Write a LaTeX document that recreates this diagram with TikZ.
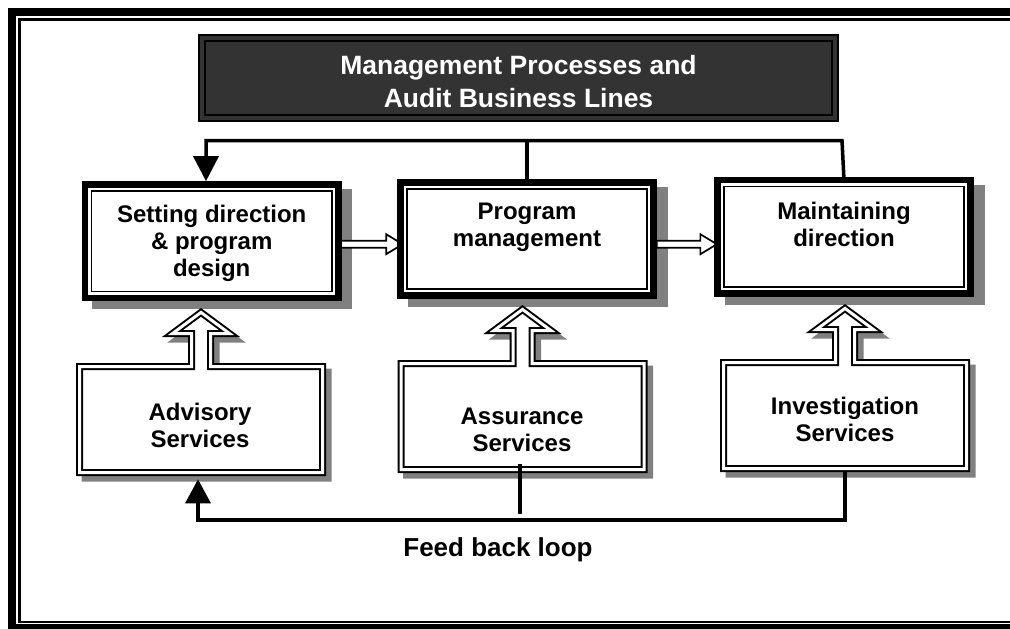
\documentclass[tikz,border=0pt]{standalone}
\usepackage{fontspec}
\setmainfont{Liberation Sans}
\usetikzlibrary{arrows.meta,calc}
\definecolor{titlegray}{HTML}{333333}
\definecolor{shadegray}{HTML}{808080}
\pgfdeclarelayer{shade}
\pgfdeclarelayer{flow}
\pgfsetlayers{shade,flow,main}

\tikzset{
  % gray drop shadow behind a stage box
  boxshade/.style={insert path={($(#1.north west)+(7.15,4.65)$) rectangle ($(#1.south east)+(13.85,11.35)$)}},
  % thin inner rule of a stage box
  boxinner/.style={insert path={($(#1.north west)+(6.5,6.5)$) rectangle ($(#1.south east)+(-6.5,-6.5)$)}},
  % service box merged with its upward block arrow; #2 shifts the outline (for the shadow)
  serviceshape/.style 2 args={insert path={
    ($(#1.south west)+(3.5+#2,-3.5+#2)$) -- ($(#1.north west)+(3.5+#2,3.5+#2)$)
    -- ($(#1.north)+(-9.5+#2,3.5+#2)$) -- ($(#1.north)+(-9.5+#2,-29.5+#2)$)
    -- ($(#1.north)+(-28.5+#2,-29.5+#2)$) -- ($(#1.north)+(#2,-50.6+#2)$)
    -- ($(#1.north)+(28.5+#2,-29.5+#2)$) -- ($(#1.north)+(9.5+#2,-29.5+#2)$)
    -- ($(#1.north)+(9.5+#2,3.5+#2)$) -- ($(#1.north east)+(-3.5+#2,3.5+#2)$)
    -- ($(#1.south east)+(-3.5+#2,-3.5+#2)$) -- cycle}},
  % hollow block arrow from #1 to #2
  hollowflow/.style 2 args={insert path={
    ($(#1)+(0,-3.5)$) -- ($(#2)+(-16.5,-3.5)$) -- ($(#2)+(-16.5,-10)$) -- (#2)
    -- ($(#2)+(-16.5,10)$) -- ($(#2)+(-16.5,3.5)$) -- ($(#1)+(0,3.5)$) -- cycle}}
}

\begin{document}
\begin{tikzpicture}[x=1pt,y=-1pt,
  every node/.style={inner sep=0pt, outer sep=0pt},
  stagebox/.style={draw=black, fill=white, line width=6.7pt,
    minimum width=253.3pt, minimum height=113.3pt},
  servicebox/.style={minimum width=250pt, minimum height=113pt},
  labeltext/.style={font=\bfseries\fontsize{24}{27}\selectfont, align=center, anchor=north},
  conn/.style={draw=black, line width=3.5pt, line join=miter},
  tipdown/.style={-{Triangle[width=25pt,length=25pt]}},
  doubleline/.style={draw=black, line width=2pt, double=white, double distance=3pt,
    line join=miter, fill=white},
  hollow/.style={draw=black, fill=white, line width=1.7pt, line join=miter}]

\useasboundingbox (0,0) rectangle (1010,629);

% page frame
\draw[line width=7.5pt] (12,12) rectangle (1020,627.75);
\draw[line width=2.4pt] (19.5,19.5) rectangle (1013,622);

% heading
\node[draw=black, line width=2pt, fill=titlegray, minimum width=639pt, minimum height=86pt]
  (titlebox) at (518.5,78) {};
\draw[line width=2pt] ($(titlebox.north west)+(6,6)$) rectangle ($(titlebox.south east)+(-6,-6)$);
\node[font=\bfseries\fontsize{26.5}{32.5}\selectfont, text=white, align=center, anchor=north]
  (titletext) at (518.5,55.5) {Management Processes and\\Audit Business Lines};

% stage boxes
\node[stagebox] (setdir) at (211.7,241.2) {};
\node[stagebox] (progmgmt) at (527,238.8) {};
\node[stagebox] (maintdir) at (844,236.7) {};
\draw[line width=1.7pt, boxinner=setdir];
\draw[line width=1.7pt, boxinner=progmgmt];
\draw[line width=1.7pt, boxinner=maintdir];
\node[labeltext] (setdirtext) at (211.7,205) {Setting direction\\\& program\\design};
\node[labeltext] (progmgmttext) at (527,203.3) {Program\\management};
\node[labeltext] (maintdirtext) at (844,201.7) {Maintaining\\direction};

% service boxes
\node[servicebox] (advisory) at (201,419.5) {};
\node[servicebox] (assurance) at (522.5,416.5) {};
\node[servicebox] (investigation) at (845,415.5) {};

\begin{pgfonlayer}{shade}
  \fill[shadegray, boxshade=setdir];
  \fill[shadegray, boxshade=progmgmt];
  \fill[shadegray, boxshade=maintdir];
  \path[fill=shadegray, draw=shadegray, line width=7pt, line join=miter, serviceshape={advisory}{5.5}];
  \path[fill=shadegray, draw=shadegray, line width=7pt, line join=miter, serviceshape={assurance}{5.5}];
  \path[fill=shadegray, draw=shadegray, line width=7pt, line join=miter, serviceshape={investigation}{5.5}];
\end{pgfonlayer}

\path[doubleline, serviceshape={advisory}{0}];
\path[doubleline, serviceshape={assurance}{0}];
\path[doubleline, serviceshape={investigation}{0}];
\node[labeltext] (advisorytext) at (200,403) {Advisory\\Services};
\node[labeltext] (assurancetext) at (522,407.7) {Assurance\\Services};
\node[labeltext] (investigationtext) at (845,397.3) {Investigation\\Services};

% flow between the stages
\coordinate (flow1s) at ($(setdir.east)+(2.6,3)$);
\coordinate (flow1e) at ($(flow1s -| progmgmt.west)+(2.3,0)$);
\coordinate (flow2s) at ($(progmgmt.east)+(3,5.4)$);
\coordinate (flow2e) at ($(flow2s -| maintdir.west)+(-0.5,0)$);
\begin{pgfonlayer}{flow}
  \path[hollow, hollowflow={flow1s}{flow1e}];
  \path[hollow, hollowflow={flow2s}{flow2e}];
\end{pgfonlayer}

% direction rail along the top
\coordinate (railright) at (842,140.5);
\coordinate (railleft) at (206,140.5);
\draw[conn, tipdown] (maintdir.north) -- (railright) -- (railleft)
  -- ($(railleft |- setdir.north)+(0,-3.35)$);
\draw[conn] (progmgmt.north) -- (progmgmt.north |- railleft);

% feed back loop
\draw[conn, -{Triangle[width=25pt,length=24pt]}] (investigation.south)
  -- ($(investigation.south |- advisory.south)+(0,44)$)
  -- ($(advisory.south)+(-3,44)$) -- ($(advisory.south)+(-3,3.3)$);
\draw[conn] ($(assurance.south)+(-2.5,-9.5)$) -- ++(0,50.5);
\node[font=\bfseries\fontsize{26}{30}\selectfont, anchor=base] (loopcaption) at (498,556.5) {Feed back loop};

\end{tikzpicture}
\end{document}
